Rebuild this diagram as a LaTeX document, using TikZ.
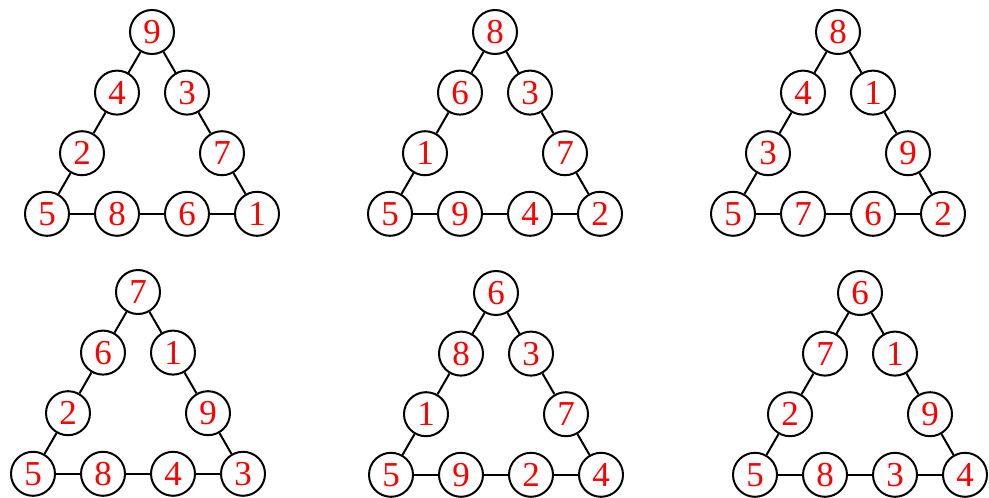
\documentclass[tikz,border=0pt]{standalone}
\usepackage{fontspec}
\setmainfont{Liberation Serif}
\usepackage{tikz}

\tikzset{
  num/.style={circle, draw=black, line width=2pt, minimum size=44pt, inner sep=0pt,
    text=red, font=\fontsize{35}{40}\selectfont},
  edge/.style={line width=2pt}
}

\begin{document}
\begin{tikzpicture}[x=1pt,y=-1pt]
    \useasboundingbox (0,0) rectangle (989,498);

    % top left
    \begin{scope}[shift={(152,32)}]
      \foreach \i/\x/\y/\v in {1/0/0/9,2/-0.5/1/4,3/-1/2/2,4/-1.5/3/5,5/-0.5/3/8,6/0.5/3/6,7/1.5/3/1,8/1/2/7,9/0.5/1/3} {
          \node[num] (A\i) at (70*\x,60.6*\y) {\v};
        }
      \foreach \i/\j in {1/2,2/3,3/4,4/5,5/6,6/7,7/8,8/9,9/1} {
          \draw[edge] (A\i) -- (A\j);
        }
    \end{scope}

    % top middle
    \begin{scope}[shift={(495,32)}]
      \foreach \i/\x/\y/\v in {1/0/0/8,2/-0.5/1/6,3/-1/2/1,4/-1.5/3/5,5/-0.5/3/9,6/0.5/3/4,7/1.5/3/2,8/1/2/7,9/0.5/1/3} {
          \node[num] (B\i) at (70*\x,60.6*\y) {\v};
        }
      \foreach \i/\j in {1/2,2/3,3/4,4/5,5/6,6/7,7/8,8/9,9/1} {
          \draw[edge] (B\i) -- (B\j);
        }
    \end{scope}

    % top right
    \begin{scope}[shift={(838,32)}]
      \foreach \i/\x/\y/\v in {1/0/0/8,2/-0.5/1/4,3/-1/2/3,4/-1.5/3/5,5/-0.5/3/7,6/0.5/3/6,7/1.5/3/2,8/1/2/9,9/0.5/1/1} {
          \node[num] (C\i) at (70*\x,60.6*\y) {\v};
        }
      \foreach \i/\j in {1/2,2/3,3/4,4/5,5/6,6/7,7/8,8/9,9/1} {
          \draw[edge] (C\i) -- (C\j);
        }
    \end{scope}

    % bottom left
    \begin{scope}[shift={(138,292)}]
      \foreach \i/\x/\y/\v in {1/0/0/7,2/-0.5/1/6,3/-1/2/2,4/-1.5/3/5,5/-0.5/3/8,6/0.5/3/4,7/1.5/3/3,8/1/2/9,9/0.5/1/1} {
          \node[num] (D\i) at (70*\x,60.6*\y) {\v};
        }
      \foreach \i/\j in {1/2,2/3,3/4,4/5,5/6,6/7,7/8,8/9,9/1} {
          \draw[edge] (D\i) -- (D\j);
        }
    \end{scope}

    % bottom middle
    \begin{scope}[shift={(496,293)}]
      \foreach \i/\x/\y/\v in {1/0/0/6,2/-0.5/1/8,3/-1/2/1,4/-1.5/3/5,5/-0.5/3/9,6/0.5/3/2,7/1.5/3/4,8/1/2/7,9/0.5/1/3} {
          \node[num] (E\i) at (70*\x,60.6*\y) {\v};
        }
      \foreach \i/\j in {1/2,2/3,3/4,4/5,5/6,6/7,7/8,8/9,9/1} {
          \draw[edge] (E\i) -- (E\j);
        }
    \end{scope}

    % bottom right
    \begin{scope}[shift={(860,293)}]
      \foreach \i/\x/\y/\v in {1/0/0/6,2/-0.5/1/7,3/-1/2/2,4/-1.5/3/5,5/-0.5/3/8,6/0.5/3/3,7/1.5/3/4,8/1/2/9,9/0.5/1/1} {
          \node[num] (F\i) at (70*\x,60.6*\y) {\v};
        }
      \foreach \i/\j in {1/2,2/3,3/4,4/5,5/6,6/7,7/8,8/9,9/1} {
          \draw[edge] (F\i) -- (F\j);
        }
    \end{scope}
  \end{tikzpicture}
\end{document}
